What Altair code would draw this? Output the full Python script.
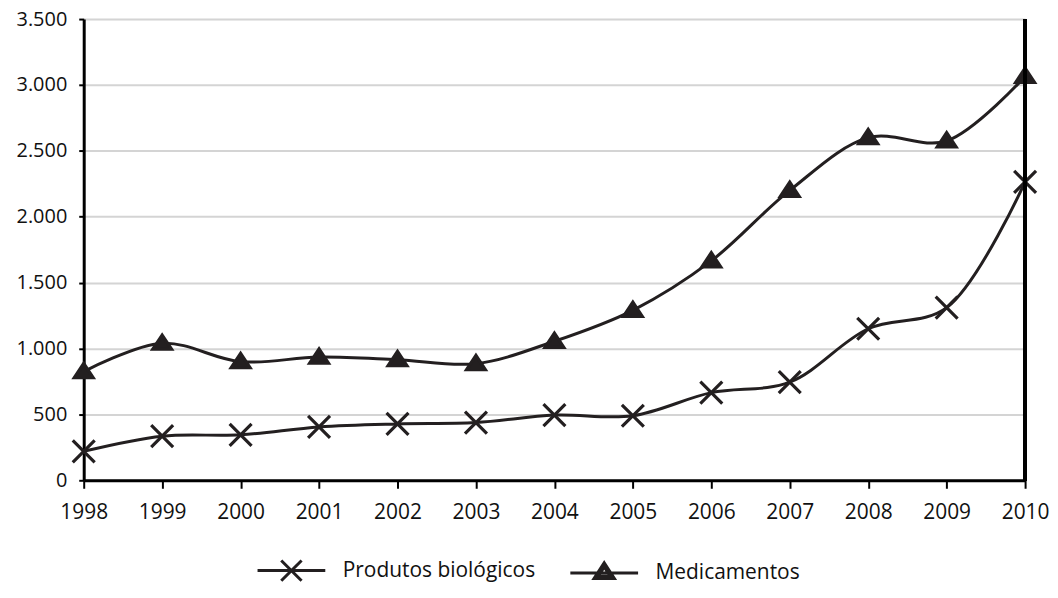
import altair as alt
import pandas as pd

years = [1998, 1999, 2000, 2001, 2002, 2003, 2004, 2005, 2006, 2007, 2008, 2009, 2010]
produtos = [220, 335, 345, 405, 428, 438, 495, 490, 665, 745, 1150, 1310, 2265]
medicamentos = [825, 1040, 900, 935, 915, 885, 1055, 1290, 1665, 2200, 2600, 2575, 3065]
series_names = ["Produtos biológicos", "Medicamentos"]
y_ticks = [0, 500, 1000, 1500, 2000, 2500, 3000, 3500]

rows = []
for yr, v in zip(years, produtos):
    rows.append({"ano": yr, "valor": v, "serie": series_names[0]})
for yr, v in zip(years, medicamentos):
    rows.append({"ano": yr, "valor": v, "serie": series_names[1]})
df = pd.DataFrame(rows)

INK = "#231f20"
FONT = "Open Sans"
W, H = 945, 463

cross_path = "M-1,-1L1,1M-1,1L1,-1"
tri_path = "M0,-0.75L0.86,0.55L-0.86,0.55Z"
legend_cross = "M-1,0L1,0M-0.3,-0.3L0.3,0.3M-0.3,0.3L0.3,-0.3"
legend_tri = ("M-1,0L1,0M0,-0.3L0.3,0.16L-0.3,0.16Z"
              "M0,-0.18L0.18,0.1L-0.18,0.1Z")

x_enc = alt.X("ano:Q",
              scale=alt.Scale(domain=[1998, 2010], nice=False, zero=False),
              axis=alt.Axis(values=years, format="d", title=None, grid=False,
                            labelFlush=False, labelOverlap=False,
                            domainColor="black", domainWidth=3,
                            tickColor="black", tickWidth=2, tickSize=8,
                            labelPadding=13, labelFont=FONT, labelFontSize=21,
                            labelColor="#111111"))
y_enc = alt.Y("valor:Q",
              scale=alt.Scale(domain=[0, 3500], nice=False),
              axis=alt.Axis(values=y_ticks, title=None,
                            labelExpr="replace(format(datum.value, ','), ',', '.')",
                            grid=True, gridColor="#d4d4d4", gridWidth=2,
                            domainColor="black", domainWidth=3,
                            tickColor="black", tickWidth=2, tickSize=5,
                            labelPadding=12, labelFont=FONT, labelFontSize=20,
                            labelColor="#111111"))

base = alt.Chart(df)

lines = base.mark_line(interpolate="catmull-rom", strokeWidth=3, color=INK).encode(
    x=x_enc, y=y_enc, detail="serie:N")

points = base.mark_point(fill=INK, stroke=INK, size=484, strokeWidth=3.2,
                         opacity=1, fillOpacity=1).encode(
    x="ano:Q", y="valor:Q",
    shape=alt.Shape("serie:N",
                    scale=alt.Scale(domain=series_names, range=[cross_path, tri_path]),
                    legend=None))

legend_layer = base.transform_filter("datum.valor < 0").mark_point(
    filled=False, color=INK, strokeWidth=3, opacity=1).encode(
    x="ano:Q", y="valor:Q",
    shape=alt.Shape("serie:N",
                    scale=alt.Scale(domain=series_names, range=[legend_cross, legend_tri]),
                    legend=alt.Legend(title=None, orient="none", legendX=173, legendY=518,
                                      direction="horizontal", symbolSize=4624,
                                      symbolStrokeWidth=3, symbolFillColor=INK,
                                      symbolStrokeColor=INK, symbolOpacity=1,
                                      labelFont=FONT,
                                      labelFontSize=21, labelColor="#111111",
                                      labelOffset=16, labelLimit=400,
                                      columnPadding=28, padding=0)))

right_rule = alt.Chart(df).mark_rule(color="black", strokeWidth=3).encode(
    x=alt.value(W), y=alt.value(0), y2=alt.value(H))

chart = alt.layer(lines, points, legend_layer, right_rule).resolve_scale(
    shape="independent"
).properties(
    width=W, height=H,
    autosize=alt.AutoSizeParams(type="none"),
    padding={"left": 76, "top": 10, "right": 25, "bottom": 104},
).configure_view(stroke=None).configure(background="white")

chart.save("out.html", embed_options={"renderer": "svg", "actions": False})
